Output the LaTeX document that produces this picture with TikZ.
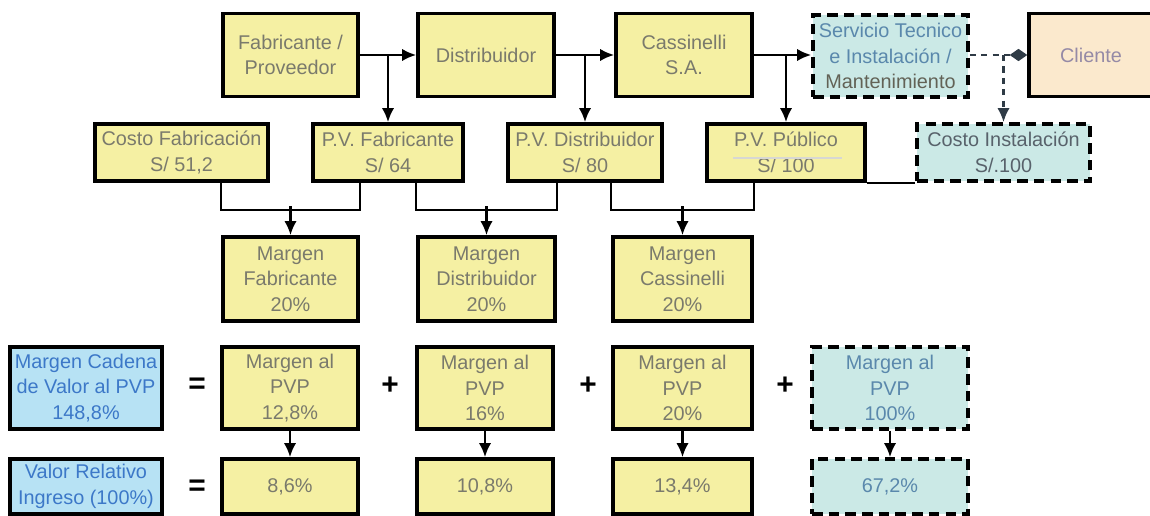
\documentclass[tikz,border=0pt]{standalone}
\usepackage{fontspec}
\setmainfont{Liberation Sans}
\usetikzlibrary{arrows.meta}
\definecolor{amarillo}{HTML}{F5F0A3}
\definecolor{celeste}{HTML}{B7E2F4}
\definecolor{turquesa}{HTML}{CBE9E6}
\definecolor{crema}{HTML}{FBE9CD}
\definecolor{gristxt}{HTML}{7A7A6C}
\definecolor{azultxt}{HTML}{3C78C8}
\definecolor{acerotxt}{HTML}{5A88AC}
\definecolor{lilatxt}{HTML}{958AA6}
\definecolor{lineaosc}{HTML}{2F3B46}
\begin{document}
\begin{tikzpicture}[x=0.02cm,y=-0.02cm,
    font=\fontsize{11.3}{14.5}\selectfont,
    >={Latex[length=8pt,width=7pt]},
    caja/.style={draw,line width=2pt,fill=amarillo,text=gristxt,align=center,inner sep=1pt},
    cajaazul/.style={caja,fill=celeste,text=azultxt},
    cajapunt/.style={caja,dash pattern=on 6pt off 3.5pt,fill=turquesa,text=acerotxt},
    signo/.style={font=\fontsize{17}{17}\bfseries\selectfont,inner sep=0pt},
    flecha/.style={line width=1.4pt}]
        \useasboundingbox (0,0) rectangle (1150,516);

        % cadena principal
        \node (fab) at (290.5,55) [caja,minimum width=2.7cm,minimum height=1.66cm]{Fabricante /\\Proveedor};
        \node (dist) at (486,55) [caja,minimum width=2.72cm,minimum height=1.66cm]{Distribuidor};
        \node (cass) at (684,55) [caja,minimum width=2.72cm,minimum height=1.66cm]{Cassinelli\\S.A.};
        \node (serv) at (890.5,56) [cajapunt,minimum width=3.1cm,minimum height=1.64cm]{Servicio Tecnico\\e Instalación /\\{\color{gristxt!80!black}Mantenimiento}};
        \node (cliente) at (1091,55) [caja,fill=crema,text=lilatxt,minimum width=2.48cm,minimum height=1.66cm]{Cliente};

        % precios
        \node (costofab) at (181.5,152.5) [caja,minimum width=3.46cm,minimum height=1.14cm]{Costo Fabricación\\S/ 51,2};
        \node (pvfab) at (388,152.5) [caja,minimum width=3cm,minimum height=1.14cm]{P.V. Fabricante\\S/ 64};
        \node (pvdist) at (585,152.5) [caja,minimum width=3.08cm,minimum height=1.14cm]{P.V. Distribuidor\\S/ 80};
        \node (pvpub) at (786,152.5) [caja,minimum width=3.16cm,minimum height=1.14cm]{P.V. Público\\S/ 100};
        \node (costoinst) at (1003.5,152.5) [cajapunt,text=lineaosc!80,minimum width=3.46cm,minimum height=1.14cm]{Costo Instalación\\S/.100};
        \draw [gristxt!30,line width=0.6pt] (733,158) -- (842,158);

        % margenes
        \node (mfab) at (290.5,279) [caja,minimum width=2.7cm,minimum height=1.68cm]{Margen\\Fabricante\\20\%};
        \node (mdist) at (486.5,279) [caja,minimum width=2.74cm,minimum height=1.68cm]{Margen\\Distribuidor\\20\%};
        \node (mcass) at (682.5,279) [caja,minimum width=2.78cm,minimum height=1.68cm]{Margen\\Cassinelli\\20\%};

        % margen al PVP
        \node (cadena) at (86,388) [cajaazul,minimum width=3.04cm,minimum height=1.64cm]{Margen Cadena\\de Valor al PVP\\148,8\%};
        \node (pvp1) at (290,388) [caja,minimum width=2.72cm,minimum height=1.64cm]{Margen al\\PVP\\12,8\%};
        \node (pvp2) at (485,388) [caja,minimum width=2.72cm,minimum height=1.64cm]{Margen al\\PVP\\16\%};
        \node (pvp3) at (682.5,388) [caja,minimum width=2.78cm,minimum height=1.64cm]{Margen al\\PVP\\20\%};
        \node (pvp4) at (890,388) [cajapunt,minimum width=3.12cm,minimum height=1.64cm]{Margen al\\PVP\\100\%};

        % valor relativo
        \node (valor) at (86,486.5) [cajaazul,minimum width=3.04cm,minimum height=1.1cm]{Valor Relativo\\Ingreso (100\%)};
        \node (r1) at (290,486.5) [caja,minimum width=2.72cm,minimum height=1.1cm]{8,6\%};
        \node (r2) at (485,486.5) [caja,minimum width=2.72cm,minimum height=1.1cm]{10,8\%};
        \node (r3) at (682.5,486.5) [caja,minimum width=2.78cm,minimum height=1.1cm]{13,4\%};
        \node (r4) at (890,486.5) [cajapunt,minimum width=3.12cm,minimum height=1.1cm]{67,2\%};

        % signos
        \node (ig1) at (197,386) [signo]{=};
        \node (ig2) at (197,488) [signo]{=};
        \node (mas1) at (390,386) [signo]{+};
        \node (mas2) at (588,386) [signo]{+};
        \node (mas3) at (785,386) [signo]{+};

        % flujo
        \draw [->,flecha] (fab) -- (dist);
        \draw [->,flecha] (dist) -- (cass);
        \draw [->,flecha] (cass.east) -- (cass.east -| serv.west);
        \draw [->,flecha] (pvfab.north |- fab.east) -- (pvfab);
        \draw [->,flecha] (pvdist.north |- dist.east) -- (pvdist);
        \draw [->,flecha] (pvpub.north |- cass.east) -- (pvpub);
        \draw [-{Diamond[length=10pt,width=7pt]},flecha,lineaosc,dash pattern=on 3.5pt off 3pt] (serv.east |- cliente.west) -- (cliente.west);
        \draw [->,flecha,lineaosc,dash pattern=on 3.5pt off 3pt] (costoinst.north |- cliente.west) -- (costoinst);
        \draw [flecha] (pvpub.south east) -- (costoinst.south west);

        \draw [flecha] (costofab.south -| mfab.west) -- ++(0,27) -| (pvfab.south -| mfab.east);
        \draw [->,flecha] (mfab.north) ++(0,-29) -- (mfab);
        \draw [flecha] (pvfab.south -| mdist.west) -- ++(0,27) -| (pvdist.south -| mdist.east);
        \draw [->,flecha] (mdist.north) ++(0,-29) -- (mdist);
        \draw [flecha] (pvdist.south -| mcass.west) -- ++(0,27) -| (pvpub.south -| mcass.east);
        \draw [->,flecha] (mcass.north) ++(0,-29) -- (mcass);

        \draw [->,flecha] (pvp1) -- (r1);
        \draw [->,flecha] (pvp2) -- (r2);
        \draw [->,flecha] (pvp3) -- (r3);
        \draw [->,flecha] (pvp4) -- (r4);

    \end{tikzpicture}
\end{document}
